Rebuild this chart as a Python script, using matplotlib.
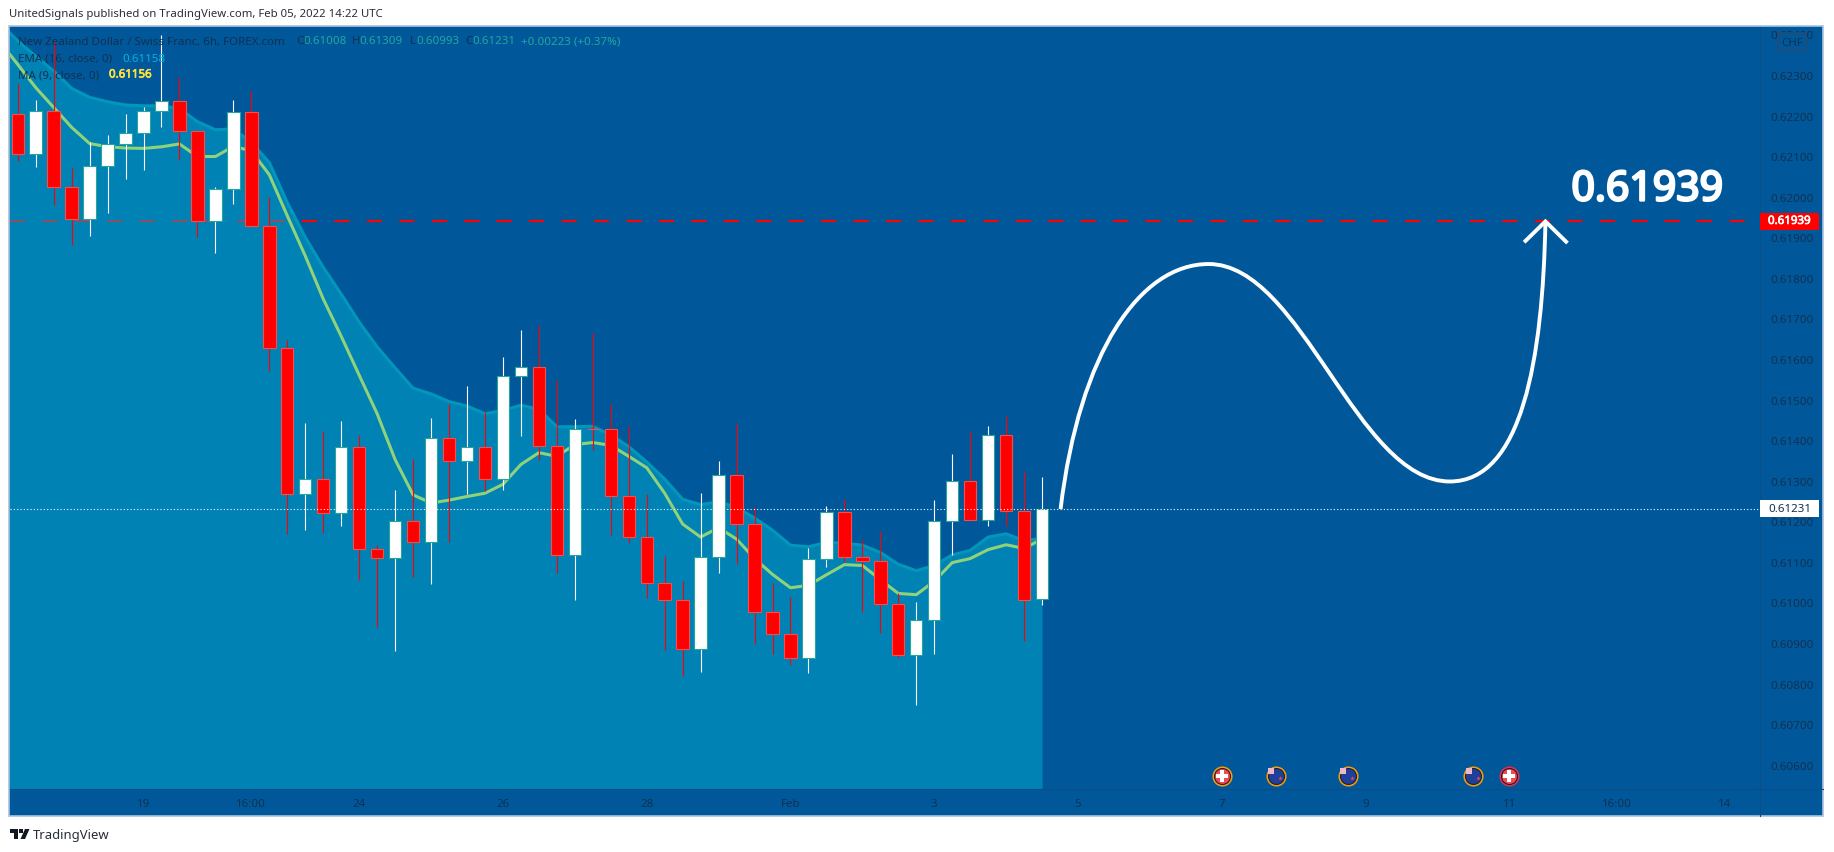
import matplotlib
matplotlib.use('Agg')
import matplotlib.pyplot as plt
import matplotlib.patheffects as pe
from matplotlib.patches import Rectangle, Polygon, FancyBboxPatch, PathPatch
from matplotlib.path import Path
from matplotlib.transforms import offset_copy

W, H = 1834, 853
plt.rcParams['font.family'] = ['Noto Sans', 'DejaVu Sans']

# candles, one every 6h (bar index 0 = first one on screen)
opens = [0.62203, 0.62104, 0.62212, 0.62023, 0.61946, 0.62075, 0.62131, 0.62156, 0.62210, 0.62235,
         0.62163, 0.61939, 0.62020, 0.62208, 0.61927, 0.61626, 0.61266, 0.61303, 0.61221, 0.61382,
         0.61132, 0.61110, 0.61200, 0.61149, 0.61404, 0.61349, 0.61382, 0.61305, 0.61557, 0.61579,
         0.61386, 0.61118, 0.61428, 0.61428, 0.61263, 0.61160, 0.61047, 0.61005, 0.60884, 0.61113,
         0.61313, 0.61192, 0.60976, 0.60923, 0.60864, 0.61108, 0.61224, 0.61113, 0.61102, 0.60995,
         0.60871, 0.60956, 0.61200, 0.61298, 0.61203, 0.61413, 0.61226, 0.61008]
closes = [0.62104, 0.62212, 0.62023, 0.61946, 0.62075, 0.62131, 0.62156, 0.62210, 0.62235, 0.62163,
          0.61939, 0.62020, 0.62208, 0.61927, 0.61626, 0.61266, 0.61303, 0.61221, 0.61382, 0.61132,
          0.61110, 0.61200, 0.61149, 0.61404, 0.61349, 0.61382, 0.61305, 0.61557, 0.61579, 0.61386,
          0.61118, 0.61428, 0.61427, 0.61263, 0.61160, 0.61047, 0.61005, 0.60884, 0.61113, 0.61313,
          0.61192, 0.60976, 0.60923, 0.60864, 0.61108, 0.61224, 0.61113, 0.61102, 0.60995, 0.60871,
          0.60956, 0.61200, 0.61298, 0.61203, 0.61413, 0.61226, 0.61007, 0.61231]
highs = [0.62281, 0.62238, 0.62384, 0.62070, 0.62136, 0.62152, 0.62203, 0.62222, 0.62398, 0.62295,
         0.62163, 0.62023, 0.62238, 0.62261, 0.61999, 0.61647, 0.61443, 0.61423, 0.61447, 0.61412,
         0.61141, 0.61276, 0.61354, 0.61454, 0.61488, 0.61533, 0.61469, 0.61605, 0.61671, 0.61683,
         0.61547, 0.61452, 0.61664, 0.61488, 0.61434, 0.61267, 0.61114, 0.61052, 0.61269, 0.61348,
         0.61441, 0.61236, 0.61048, 0.61013, 0.61134, 0.61237, 0.61254, 0.61154, 0.61177, 0.61022,
         0.61001, 0.61252, 0.61366, 0.61422, 0.61434, 0.61460, 0.61323, 0.61309]
lows = [0.62089, 0.62074, 0.61980, 0.61882, 0.61904, 0.61960, 0.62043, 0.62065, 0.62172, 0.62090,
        0.61901, 0.61861, 0.61982, 0.61927, 0.61571, 0.61169, 0.61178, 0.61172, 0.61188, 0.61055,
        0.60939, 0.60881, 0.61063, 0.61046, 0.61148, 0.61268, 0.61275, 0.61276, 0.61410, 0.61350,
        0.61072, 0.61006, 0.61375, 0.61166, 0.61147, 0.61010, 0.60883, 0.60819, 0.60829, 0.61073,
        0.61094, 0.60898, 0.60873, 0.60846, 0.60827, 0.61088, 0.61100, 0.60976, 0.60924, 0.60863,
        0.60748, 0.60873, 0.61117, 0.61203, 0.61188, 0.61188, 0.60904, 0.60993]

# moving averages start one bar before the screen, index -1
ma9 = [0.62382, 0.62326, 0.62269, 0.62220, 0.62171, 0.62131, 0.62123, 0.62120, 0.62119, 0.62123,
       0.62130, 0.62099, 0.62099, 0.62124, 0.62113, 0.62054, 0.61953, 0.61854, 0.61748, 0.61656,
       0.61560, 0.61465, 0.61352, 0.61265, 0.61245, 0.61252, 0.61261, 0.61269, 0.61291, 0.61340,
       0.61369, 0.61360, 0.61389, 0.61394, 0.61387, 0.61360, 0.61332, 0.61269, 0.61193, 0.61161,
       0.61184, 0.61156, 0.61108, 0.61069, 0.61036, 0.61042, 0.61068, 0.61093, 0.61091, 0.61056,
       0.61022, 0.61019, 0.61052, 0.61098, 0.61108, 0.61130, 0.61142, 0.61133, 0.61156]
ema16 = [0.62429, 0.62384, 0.62346, 0.62310, 0.62267, 0.62245, 0.62234, 0.62226, 0.62224, 0.62224,
         0.62217, 0.62185, 0.62165, 0.62167, 0.62134, 0.62084, 0.61986, 0.61900, 0.61826, 0.61760,
         0.61691, 0.61630, 0.61578, 0.61528, 0.61514, 0.61495, 0.61484, 0.61465, 0.61473, 0.61486,
         0.61476, 0.61433, 0.61433, 0.61434, 0.61413, 0.61384, 0.61346, 0.61304, 0.61254, 0.61241,
         0.61248, 0.61234, 0.61208, 0.61178, 0.61141, 0.61137, 0.61148, 0.61146, 0.61141, 0.61123,
         0.61094, 0.61078, 0.61091, 0.61117, 0.61128, 0.61161, 0.61169, 0.61152, 0.61158]

target = 0.61939
last_close = 0.61231

price_ticks = [0.606, 0.607, 0.608, 0.609, 0.610, 0.611, 0.612, 0.613, 0.614, 0.615, 0.616, 0.617,
               0.618, 0.619, 0.620, 0.621, 0.622, 0.623, 0.624]
time_ticks = [7, 13, 19, 27, 35, 43, 51, 59, 67, 75, 83, 89, 95]
time_labels = ['19', '16:00', '24', '26', '28', 'Feb', '3', '5', '7', '9', '11', '16:00', '14']

# hand drawn projection: bezier control points as bar index / price
curve_x = [58.03, 59.08, 62.44, 66.27, 71.45, 74.51, 79.69, 83.71, 84.86, 85.01]
curve_y = [0.61230, 0.61616, 0.61834, 0.61834, 0.61834, 0.61298, 0.61298, 0.61298, 0.61600, 0.61937]
head_x = [83.90, 85.01, 86.16]
head_y = [0.61891, 0.61939, 0.61889]

# economic events at the bottom of the chart
swiss_events = [67, 83]
swiss_rings = ['#f59a0c', '#e0304f']
nz_events = [70, 74, 81]
event_price = 0.60573

BG = '#00589b'
TXT = '#12304f'
FS = 8.3


def heavy(width, color):
    # Noto Sans has no bold face here, thicken with a stroke instead
    return [pe.withStroke(linewidth=width, foreground=color)]


def px_text(x, y, s, **kw):
    kw.setdefault('va', 'center')
    kw.setdefault('color', TXT)
    kw.setdefault('fontsize', FS)
    return fig.text(x / W, 1 - y / H, s, **kw)


def px_rect(x0, y0, x1, y1, **kw):
    fig.add_artist(Rectangle((x0 / W, 1 - y1 / H), (x1 - x0) / W, (y1 - y0) / H,
                             transform=fig.transFigure, **kw))


fig = plt.figure(figsize=(W / 100, H / 100), dpi=100, facecolor='white')
# outer frame behind price and time scales
px_rect(9, 27, 1823, 817, facecolor=BG, edgecolor='#a9c2dc', linewidth=1.2, zorder=-1)

ax = fig.add_axes([10 / W, 1 - 790 / H, (1760 - 10) / W, (790 - 27.7) / H])
ax.set_facecolor(BG)
ax.set_xlim(-0.43, 96.95)
ax.set_ylim(0.6054, 0.62419)

xs = list(range(len(opens)))
xs_ma = list(range(-1, len(opens)))

ax.axhline(target, color='#ff0000', lw=1.6, dashes=(6.8, 7.8), zorder=1)
ax.fill_between(xs_ma, ema16, 0.6054, color='#00acd0', alpha=0.5, lw=0, zorder=1.5)
ax.plot(xs_ma, ema16, color='#0097ba', lw=2.2, zorder=2)
ax.plot(xs_ma, ma9, color='#8fd27a', lw=2.2, zorder=2.2)

for i in xs:
    up = closes[i] >= opens[i]
    ax.vlines(i, lows[i], highs[i], color='white' if up else '#ff0000', lw=0.8, zorder=3)
    ax.bar(i, abs(closes[i] - opens[i]), bottom=min(opens[i], closes[i]), width=0.69,
           facecolor='white' if up else '#ff0000',
           edgecolor='#26a69a' if up else '#f0504f', linewidth=0.8, zorder=3.2)

ax.axhline(last_close, color='white', lw=0.8, dashes=(1, 2), zorder=4)

# projected path
verts = list(zip(curve_x, curve_y))
codes = [Path.MOVETO] + [Path.CURVE4] * (len(verts) - 1)
ax.add_patch(PathPatch(Path(verts, codes), facecolor='none', edgecolor='white', lw=2.8, zorder=5))
ax.plot(head_x, head_y, color='white', lw=2.8, solid_joinstyle='miter', zorder=5)
ax.text(head_x[1] + 1.45, 0.62018, '0.61939', color='white', fontsize=29.5, va='center', ha='left',
        zorder=6, path_effects=heavy(1.8, 'white'))

# event icons
for x, ring in zip(swiss_events, swiss_rings):
    ax.scatter([x], [event_price], s=210, color=ring, lw=0, zorder=6)
    ax.scatter([x], [event_price], s=150, color='#1c1c2c', lw=0, zorder=6.1)
    ax.scatter([x], [event_price], s=115, color='#f2484f', lw=0, zorder=6.2)
    ax.scatter([x], [event_price], s=70, color='white', marker='P', lw=0, zorder=6.3)
corner = offset_copy(ax.transData, fig=fig, x=-3.5, y=3.5, units='points')
stars = offset_copy(ax.transData, fig=fig, x=3.2, y=-1.5, units='points')
for x in nz_events:
    ax.scatter([x], [event_price], s=210, color='#f59a0c', lw=0, zorder=6)
    ax.scatter([x], [event_price], s=150, color='#1c1c2c', lw=0, zorder=6.1)
    ax.scatter([x], [event_price], s=115, color='#1f3f9a', lw=0, zorder=6.2)
    ax.plot([x], [event_price], 's', ms=4.6, color='#f0b8c4', mew=0, zorder=6.3, transform=corner)
    ax.plot([x], [event_price], '*', ms=3.5, color='#d8506a', mew=0, zorder=6.3, transform=stars)

ax.yaxis.tick_right()
ax.set_yticks(price_ticks)
ax.set_yticklabels(['%.5f' % p for p in price_ticks], fontsize=FS, color=TXT)
ax.set_xticks(time_ticks)
ax.set_xticklabels(time_labels, fontsize=FS, color=TXT)
ax.tick_params(axis='y', length=0, pad=7.5)
ax.tick_params(axis='x', length=0, pad=6.5)
for name in ['left', 'top']:
    ax.spines[name].set_visible(False)
for name in ['right', 'bottom']:
    ax.spines[name].set_color('#0e4c84')
    ax.spines[name].set_linewidth(0.8)
# separator running on through the scale corner
fig.add_artist(plt.Line2D([1760 / W, 1760 / W], [1 - 817 / H, 1 - 790 / H], color='#0e4c84', lw=0.8))
fig.add_artist(plt.Line2D([1760 / W, 1823 / W], [1 - 790 / H, 1 - 790 / H], color='#0e4c84', lw=0.8))

# price tags on the scale
tr = ax.get_yaxis_transform()
tag_x = 1.0
tag_w = 59 / (1760 - 10)
tag_h = 0.00042
ax.add_patch(Rectangle((tag_x, target - tag_h / 2), tag_w, tag_h, transform=tr, clip_on=False,
                       facecolor='#ff0000', edgecolor='none', zorder=7))
ax.add_patch(Rectangle((tag_x, last_close - tag_h / 2), tag_w, tag_h, transform=tr, clip_on=False,
                       facecolor='white', edgecolor='none', zorder=7))
ax.text(tag_x + tag_w / 2, target, '%.5f' % target, transform=tr, color='white', fontsize=FS,
        ha='center', va='center', zorder=8, clip_on=False, path_effects=heavy(0.5, 'white'))
ax.text(tag_x + tag_w / 2, last_close, '%.5f' % last_close, transform=tr, color=TXT, fontsize=FS,
        ha='center', va='center', zorder=8, clip_on=False)

# currency box over the top tick
fig.add_artist(FancyBboxPatch((1779.5 / W, 1 - 50.5 / H), 25 / W, 16 / H, boxstyle='round,pad=0.0008',
                              transform=fig.transFigure, facecolor=BG, edgecolor='#2c4a6c', lw=1, zorder=9))
px_text(1792, 43, 'CHF', ha='center', zorder=10)

# header and legend
px_text(9, 15, 'UnitedSignals published on TradingView.com, Feb 05, 2022 14:22 UTC', color='#2a2e39', fontsize=8.2)
px_text(18, 42, 'New Zealand Dollar / Swiss Franc, 6h, FOREX.com', zorder=10)
ohlc = [(296, 'O', 303, '0.61008'), (352, 'H', 359, '0.61309'), (410, 'L', 416, '0.60993'), (465, 'C', 472.5, '0.61231')]
for x0, letter, x1, val in ohlc:
    px_text(x0, 42, letter, zorder=10)
    px_text(x1, 42, val, color='#26a69a', zorder=10)
px_text(521, 42, '+0.00223 (+0.37%)', color='#26a69a', zorder=10)
px_text(18, 59, 'EMA (16, close, 0)', zorder=10)
px_text(122, 59, '0.61158', color='#00b4e0', zorder=10)
px_text(18, 76, 'MA (9, close, 0)', zorder=10)
px_text(109, 76, '0.61156', color='#ffe23c', zorder=10, path_effects=heavy(0.5, '#ffe23c'))

# TradingView logo
for pts in ([(10, 830), (18, 830), (18, 840), (14, 840), (14, 834), (10, 834)],
            [(25, 830), (29.5, 830), (25, 840), (20.5, 840)]):
    fig.add_artist(Polygon([(x / W, 1 - y / H) for x, y in pts], transform=fig.transFigure, facecolor='#131722', edgecolor='none'))
px_rect(19.3, 830, 23.3, 834, facecolor='#131722', edgecolor='none')
px_text(33, 835.5, 'TradingView', color='#2a2e39', fontsize=9.4)

fig.savefig('out.png', dpi=100, facecolor='white')
